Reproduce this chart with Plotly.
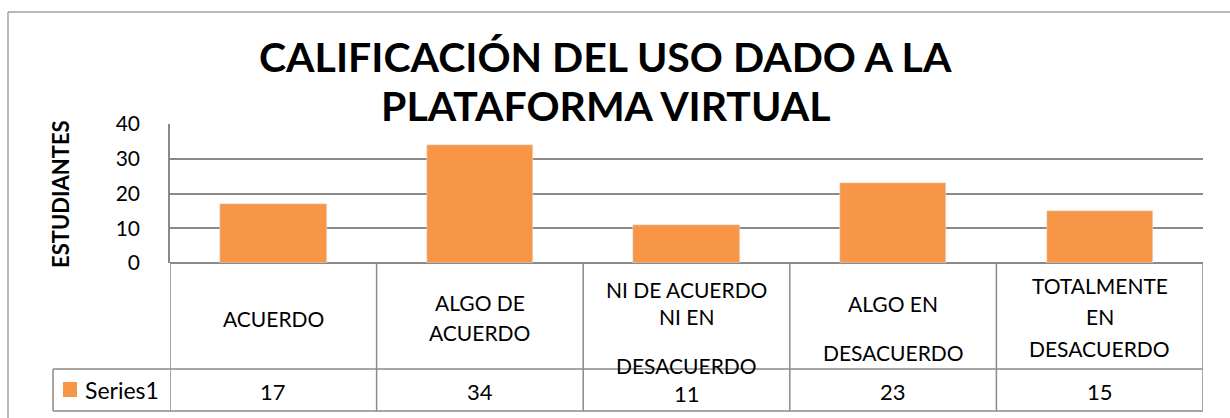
import plotly.graph_objects as go

# ---- data ----
categories = ["ACUERDO", "ALGO DE ACUERDO", "NI DE ACUERDO NI EN DESACUERDO",
              "ALGO EN DESACUERDO", "TOTALMENTE EN DESACUERDO"]
label_lines = [["ACUERDO"], ["ALGO DE", "ACUERDO"], ["NI DE ACUERDO", "NI EN", "DESACUERDO"],
               ["ALGO EN", "DESACUERDO"], ["TOTALMENTE", "EN", "DESACUERDO"]]
values = [17, 34, 11, 23, 15]
series_name = "Series1"
title_lines = ["CALIFICACIÓN DEL USO DADO A LA", "PLATAFORMA VIRTUAL"]
y_title = "ESTUDIANTES"
y_ticks = [0, 10, 20, 30, 40]

# ---- layout helpers (pixel -> paper) ----
W, H = 1230, 418
def px(x):
    return x / W
def py(y):
    return 1 - y / H

FONT = "Lato, Liberation Sans, sans-serif"
GRID = "#8a8a8a"
BAR = "#F79646"

# per-line vertical pixel positions of category labels (layout)
label_y = [[318], [302, 332], [289, 316, 365], [303, 352], [285, 316, 348]]

fig = go.Figure()
fig.add_trace(go.Bar(x=categories, y=values, marker_color=BAR, width=0.515,
                     name=series_name, showlegend=False))

plot_left, plot_right, plot_top, plot_bottom = 170, 1203, 124, 263
row_mid, table_bottom, legend_left = 369, 411, 53

fig.update_layout(
    width=W, height=H,
    margin=dict(l=0, r=0, t=0, b=0, pad=0, autoexpand=False),
    showlegend=False,
    paper_bgcolor="white", plot_bgcolor="white",
    font=dict(family=FONT, color="black"),
    xaxis=dict(domain=[px(plot_left), px(plot_right)], range=[-0.5, len(categories) - 0.5],
               showticklabels=False, showgrid=False, zeroline=False, showline=False,
               automargin=False, fixedrange=True),
    yaxis=dict(domain=[py(plot_bottom), py(plot_top)], range=[0, 40], tickvals=y_ticks,
               showgrid=True, gridcolor=GRID, gridwidth=1.5,
               zeroline=True, zerolinecolor=GRID, zerolinewidth=1.5,
               showline=True, linecolor=GRID, linewidth=1.5,
               ticks="outside", ticklen=0, ticklabelstandoff=24, automargin=False,
               tickfont=dict(size=21, color="black", family=FONT), fixedrange=True),
    bargap=0,
)

shapes = []
line = dict(color=GRID, width=1.5)
# outer chart border (top and left)
shapes.append(dict(type="line", xref="paper", yref="paper", x0=px(8), x1=1, y0=py(12), y1=py(12),
                   line=dict(color="#a0a0a0", width=1.5)))
shapes.append(dict(type="line", xref="paper", yref="paper", x0=px(8), x1=px(8), y0=py(12), y1=0,
                   line=dict(color="#a0a0a0", width=1.5)))
# data table vertical lines at category boundaries
for i in range(len(categories) + 1):
    shapes.append(dict(type="line", xref="x", yref="paper", x0=i - 0.5, x1=i - 0.5,
                       y0=py(plot_bottom), y1=py(table_bottom), line=line))
# legend cell
shapes.append(dict(type="line", xref="paper", yref="paper", x0=px(legend_left), x1=px(legend_left),
                   y0=py(row_mid), y1=py(table_bottom), line=line))
shapes.append(dict(type="line", xref="paper", yref="paper", x0=px(legend_left), x1=px(plot_right),
                   y0=py(row_mid), y1=py(row_mid), line=line))
shapes.append(dict(type="line", xref="paper", yref="paper", x0=px(legend_left), x1=px(plot_right),
                   y0=py(table_bottom), y1=py(table_bottom), line=line))
# legend key
shapes.append(dict(type="rect", xref="paper", yref="paper", x0=px(63), x1=px(77),
                   y0=py(397), y1=py(382), fillcolor=BAR, line=dict(width=0)))

annotations = []
# title
for txt, yy in zip(title_lines, [57, 105]):
    annotations.append(dict(text="<b>" + txt + "</b>", xref="paper", yref="paper", x=px(605), y=py(yy),
                            xanchor="center", yanchor="middle", showarrow=False,
                            font=dict(size=41, family=FONT, color="black")))
# y title
annotations.append(dict(text="<b>" + y_title + "</b>", xref="paper", yref="paper", x=px(60), y=py(194),
                        textangle=-90, xanchor="center", yanchor="middle", showarrow=False,
                        font=dict(size=22, family=FONT, color="black")))
# category labels in table
for i, (lines, ys) in enumerate(zip(label_lines, label_y)):
    for t, yy in zip(lines, ys):
        annotations.append(dict(text=t, xref="x", yref="paper", x=i, y=py(yy), xanchor="center",
                                yanchor="middle", showarrow=False,
                                font=dict(size=21, family=FONT, color="black")))
# values row
for i, v in enumerate(values):
    annotations.append(dict(text=str(v), xref="x", yref="paper", x=i, y=py(391 if v != 11 else 393),
                            xanchor="center", yanchor="middle", showarrow=False,
                            font=dict(size=22, family=FONT, color="black")))
# legend label
annotations.append(dict(text=series_name, xref="paper", yref="paper", x=px(83), y=py(390),
                        xanchor="left", yanchor="middle", showarrow=False,
                        font=dict(size=23, family=FONT, color="black")))

fig.update_layout(shapes=shapes, annotations=annotations)
fig.write_html("out.html", config={"displayModeBar": False},
               post_script="document.body.style.margin='0';document.body.style.overflow='hidden';")
